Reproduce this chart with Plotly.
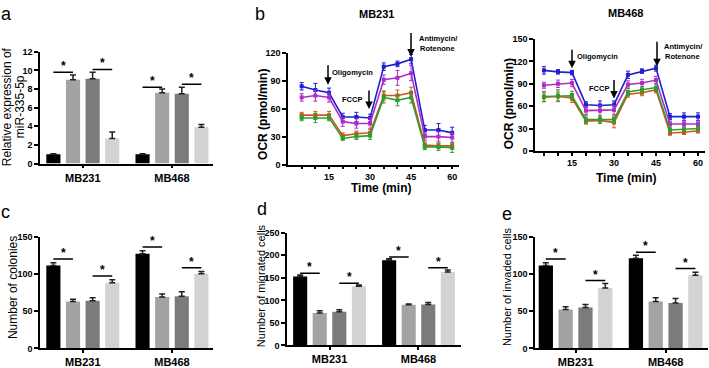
import plotly.graph_objects as go

W, H = 709, 368
FONT = "Liberation Sans"

# ---------------- data ----------------
groups = ["MB231", "MB468"]
bar_colors = ["#000000", "#a3a3a3", "#7b7b7b", "#d3d3d3"]

# panel a : relative expression of miR-335-5p
a_s1 = [1.0, 1.0]
a_s2 = [9.0, 7.6]
a_s3 = [9.1, 7.5]
a_s4 = [2.7, 3.9]
a_e1 = [0.05, 0.05]
a_e2 = [0.5, 0.4]
a_e3 = [0.7, 0.7]
a_e4 = [0.7, 0.3]
a_sig = [[9.8, 10.1], [8.2, 8.5]]

# panel c : number of colonies
c_s1 = [111, 127]
c_s2 = [63, 69]
c_s3 = [64, 70]
c_s4 = [88, 100]
c_e1 = [4, 4]
c_e2 = [3, 4]
c_e3 = [4, 6]
c_e4 = [4, 3]
c_sig = [[120, 97], [136, 108]]

# panel d : number of migrated cells
d_s1 = [153, 189]
d_s2 = [72, 90]
d_s3 = [75, 91]
d_s4 = [131, 163]
d_e1 = [3, 3]
d_e2 = [5, 2]
d_e3 = [4, 4]
d_e4 = [3, 4]
d_sig = [[160, 138], [196, 172]]

# panel e : number of invaded cells
e_s1 = [111, 121]
e_s2 = [52, 63]
e_s3 = [55, 61]
e_s4 = [81, 98]
e_e1 = [4, 4]
e_e2 = [4, 5]
e_e3 = [4, 6]
e_e4 = [6, 4]
e_sig = [[120, 91], [129, 107]]

# panel b : OCR time course
time = [5, 10, 15, 20, 25, 30, 35, 40, 45, 50, 55, 60]
line_colors = ["#1f1fd0", "#b02cc8", "#d2521e", "#2e9e2e"]

mb231_blue = [84, 80, 77, 51, 51, 50, 105, 108, 113, 37, 37, 34]
mb231_purple = [72, 74, 72, 46, 44, 44, 91, 93, 98, 30, 30, 29]
mb231_orange = [53, 53, 53, 31, 33, 34, 74, 74, 77, 21, 20, 20]
mb231_green = [50, 50, 50, 28, 30, 31, 72, 69, 72, 19, 19, 18]
mb231_blue_err = [4, 7, 5, 4, 5, 4, 4, 3, 5, 5, 7, 6]
mb231_purple_err = [4, 6, 5, 5, 5, 6, 5, 8, 8, 4, 5, 5]
mb231_orange_err = [3, 4, 4, 3, 3, 4, 5, 6, 6, 3, 3, 3]
mb231_green_err = [3, 5, 3, 2, 3, 4, 6, 6, 6, 3, 4, 5]

mb468_blue = [108, 106, 105, 62, 61, 62, 102, 107, 111, 46, 46, 46]
mb468_purple = [88, 90, 91, 54, 54, 55, 89, 91, 95, 36, 36, 36]
mb468_orange = [72, 73, 71, 40, 41, 38, 76, 78, 82, 24, 25, 27]
mb468_green = [73, 74, 74, 42, 42, 42, 79, 82, 85, 28, 29, 30]
mb468_blue_err = [5, 3, 3, 4, 6, 5, 5, 3, 4, 4, 5, 5]
mb468_purple_err = [4, 5, 5, 5, 7, 6, 5, 5, 5, 4, 4, 4]
mb468_orange_err = [6, 6, 6, 4, 4, 7, 4, 4, 4, 3, 3, 3]
mb468_green_err = [7, 8, 6, 5, 5, 5, 5, 4, 5, 3, 3, 3]

# ---------------- helpers ----------------
def xd(x0, x1):
    return [x0 / W, x1 / W]

def yd(ytop, ybot):
    return [1 - ybot / H, 1 - ytop / H]

def px(x, y):
    return x / W, 1 - y / H

BARGAP = 0.12
BARGROUPGAP = 0.28
slot = (1 - BARGAP) / 4
offsets = [-(1 - BARGAP) / 2 + (k + 0.5) * slot for k in range(4)]

fig = go.Figure()
shapes = []
annotations = []

def bar_panel(ax, vals, errs, sig):
    xa = "x" if ax == 1 else f"x{ax}"
    ya = "y" if ax == 1 else f"y{ax}"
    for k in range(4):
        fig.add_trace(go.Bar(
            x=groups, y=vals[k], xaxis=xa, yaxis=ya,
            marker=dict(color=bar_colors[k], line=dict(width=0)),
            error_y=dict(type="data", symmetric=False, array=errs[k],
                         arrayminus=[0] * len(groups), color="#222222",
                         thickness=1.5, width=3),
            showlegend=False,
        ))
    for gi in range(len(groups)):
        for pi, (k0, k1) in enumerate([(0, 1), (2, 3)]):
            yv = sig[gi][pi]
            shapes.append(dict(type="line", xref=xa, yref=ya,
                               x0=gi + offsets[k0], x1=gi + offsets[k1],
                               y0=yv, y1=yv,
                               line=dict(color="black", width=1.5)))
            annotations.append(dict(xref=xa, yref=ya,
                                    x=gi + (offsets[k0] + offsets[k1]) / 2,
                                    y=yv, text="*", showarrow=False,
                                    yanchor="bottom", yshift=-3,
                                    font=dict(family=FONT, size=12, color="black", weight="bold")))

bar_panel(1, [a_s1, a_s2, a_s3, a_s4], [a_e1, a_e2, a_e3, a_e4], a_sig)
bar_panel(4, [c_s1, c_s2, c_s3, c_s4], [c_e1, c_e2, c_e3, c_e4], c_sig)
bar_panel(5, [d_s1, d_s2, d_s3, d_s4], [d_e1, d_e2, d_e3, d_e4], d_sig)
bar_panel(6, [e_s1, e_s2, e_s3, e_s4], [e_e1, e_e2, e_e3, e_e4], e_sig)

def line_panel(ax, series, errs):
    for s, e, c in zip(series, errs, line_colors):
        fig.add_trace(go.Scatter(
            x=time, y=s, xaxis=f"x{ax}", yaxis=f"y{ax}",
            mode="lines+markers",
            line=dict(color=c, width=1.6),
            marker=dict(symbol="square", size=4, color=c),
            error_y=dict(type="data", array=e, color=c, thickness=1, width=2),
            showlegend=False, cliponaxis=False,
        ))

line_panel(2, [mb231_blue, mb231_purple, mb231_orange, mb231_green],
           [mb231_blue_err, mb231_purple_err, mb231_orange_err, mb231_green_err])
line_panel(3, [mb468_blue, mb468_purple, mb468_orange, mb468_green],
           [mb468_blue_err, mb468_purple_err, mb468_orange_err, mb468_green_err])

# ---------------- axes ----------------
tickfont = dict(family=FONT, size=9, color="black", weight="bold")
base = dict(showline=True, linecolor="black", linewidth=1.5, ticks="outside",
            ticklen=4, tickwidth=1.5, tickcolor="black", showgrid=False,
            zeroline=False, tickfont=tickfont, fixedrange=True)
catfont = dict(family=FONT, size=11, color="black", weight="bold")

time_ticks = list(range(5, 65, 5))
time_text = [str(t) if t % 15 == 0 else "" for t in time_ticks]

layout_axes = dict(
    xaxis=dict(base, domain=xd(40, 213), anchor="y", range=[-0.48, 1.46], tickfont=catfont, ticklen=3),
    yaxis=dict(base, domain=yd(48, 163), anchor="x", range=[0, 12], dtick=2),
    xaxis2=dict(base, domain=xd(288, 459), anchor="y2", range=[0, 62.5],
                tickvals=time_ticks, ticktext=time_text, ticklen=3),
    yaxis2=dict(base, domain=yd(49, 164), anchor="x2", range=[0, 120], dtick=30),
    xaxis3=dict(base, domain=xd(535, 705), anchor="y3", range=[1.8, 62.5],
                tickvals=time_ticks, ticktext=time_text, ticklen=3),
    yaxis3=dict(base, domain=yd(35, 150), anchor="x3", range=[0, 150], dtick=30),
    xaxis4=dict(base, domain=xd(40, 213), anchor="y4", range=[-0.48, 1.46], tickfont=catfont, ticklen=3),
    yaxis4=dict(base, domain=yd(238, 353), anchor="x4", range=[0, 150], dtick=50),
    xaxis5=dict(base, domain=xd(287, 461), anchor="y5", range=[-0.478, 1.478], tickfont=catfont, ticklen=3),
    yaxis5=dict(base, domain=yd(234, 350), anchor="x5", range=[0, 250], dtick=50),
    xaxis6=dict(base, domain=xd(535, 708), anchor="y6", range=[-0.45, 1.47], tickfont=catfont, ticklen=3),
    yaxis6=dict(base, domain=yd(238, 353), anchor="x6", range=[0, 150], dtick=50),
)

# ---------------- texts ----------------
def txt(x, y, s, size=12, bold=False, angle=0, xanchor="center", yanchor="middle"):
    X, Y = px(x, y)
    f = dict(family=FONT, size=size, color="black")
    if bold:
        f["weight"] = "bold"
    annotations.append(dict(xref="paper", yref="paper", x=X, y=Y, text=s,
                            showarrow=False, textangle=angle, font=f,
                            xanchor=xanchor, yanchor=yanchor))

def arrow(x, ytip, ytail):
    X, Y = px(x, ytip)
    annotations.append(dict(xref="paper", yref="paper", x=X, y=Y, ax=0, ay=-(ytip - ytail),
                            axref="pixel", ayref="pixel", text="", showarrow=True,
                            arrowhead=2, arrowsize=1, arrowwidth=1.5, arrowcolor="black"))

# panel letters
txt(6, 9, "a", size=18)
txt(260, 9, "b", size=18)
txt(5, 213, "c", size=18)
txt(262, 210, "d", size=18)
txt(507, 215, "e", size=18)

# axis titles
txt(7, 105, "Relative expression of", size=12, angle=-90)
txt(20, 105, "miR-335-5p", size=12, angle=-90)
txt(263, 113, "OCR (pmol/min)", size=12, bold=True, angle=-90)
txt(509, 102, "OCR (pmol/min)", size=12, bold=True, angle=-90)
txt(381, 188, "Time (min)", size=12, bold=True)
txt(626, 178, "Time (min)", size=12, bold=True)
txt(13, 291, "Number of colonies", size=12, angle=-90)
txt(261, 289, "Number of migrated cells", size=11, angle=-90)
txt(507, 290, "Number of invaded cells", size=11, angle=-90)

# b panel titles
txt(377, 9, "MB231", size=11, bold=True)
txt(625, 8, "MB468", size=11, bold=True)

# b panel treatment arrows (MB231: x at 15/30/45 -> px 328/369/411)
LBL = 7.5
arrow(328, 82, 61)
txt(330, 69, "Oligomycin", size=LBL, bold=True, xanchor="left")
arrow(369, 107, 87)
txt(364, 97, "FCCP", size=LBL, bold=True, xanchor="right")
arrow(411, 53, 28)
txt(417, 34, "Antimycin/", size=LBL, bold=True, xanchor="left")
txt(418, 45, "Rotenone", size=LBL, bold=True, xanchor="left")
# MB468: x at 15/30/45 -> px 572/614/657
arrow(572, 65, 45)
txt(575, 53, "Oligomycin", size=LBL, bold=True, xanchor="left")
arrow(614, 96, 76)
txt(611, 86, "FCCP", size=LBL, bold=True, xanchor="right")
arrow(657, 63, 37)
txt(662, 43, "Antimycin/", size=LBL, bold=True, xanchor="left")
txt(663, 53, "Rotenone", size=LBL, bold=True, xanchor="left")

fig.update_layout(
    width=W, height=H, margin=dict(l=0, r=0, t=0, b=0),
    paper_bgcolor="white", plot_bgcolor="white",
    barmode="group", bargap=BARGAP, bargroupgap=BARGROUPGAP,
    shapes=shapes, annotations=annotations, showlegend=False,
    **layout_axes,
)

fig.write_html("out.html", config={"displayModeBar": False},
               post_script="document.body.style.margin='0px';document.body.style.overflow='hidden';")
